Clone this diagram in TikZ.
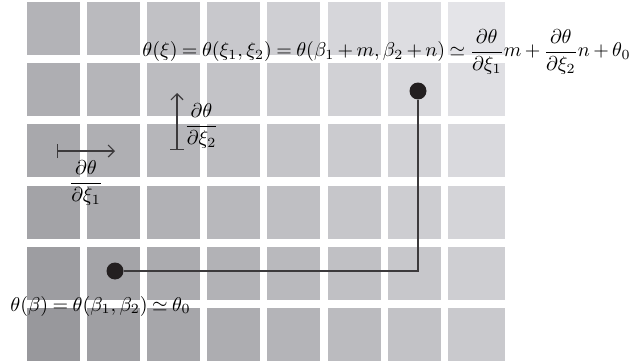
\documentclass[tikz,border=0pt]{standalone}
\usepackage{amsmath}
\usetikzlibrary{arrows.meta}
\definecolor{dotblack}{RGB}{35,31,32}
\definecolor{linegray}{RGB}{60,58,60}

\begin{document}
\begin{tikzpicture}[
    x=0.5pt, y=-0.5pt,
    % Define the style for the sample points
    dot/.style={
        circle,
        fill=dotblack,
        inner sep=0pt,
        minimum size=8.5pt
    },
    % Define the style for the path between the points
    link/.style={
        draw=linegray,
        line width=0.6pt
    },
    % Define the style for the derivative arrows
    deriv/.style={
        draw=linegray,
        line width=0.6pt,
        {Bar[width=7pt]}-{Straight Barb[length=3pt,width=6pt]}
    },
    % Define the style for the formulas
    formula/.style={
        inner sep=0pt,
        anchor=west,
        execute at begin node={\thickmuskip=4mu plus 2mu\medmuskip=3mu plus 1mu}
    }
]
    \useasboundingbox (0,0) rectangle (639,364);

    % Draw the grid of gray tiles
    \foreach \c in {1,...,8}{
        \foreach \r in {1,...,6}{
            \pgfmathtruncatemacro\v{152+7*(\c-1)+5.5*(6-\r)}
            \pgfmathtruncatemacro\vb{\v+4}
            \definecolor{tilecol}{RGB}{\v,\v,\vb}
            \pgfmathsetmacro\xl{27+60.1*(\c-1)}
            \pgfmathsetmacro\yt{2+61.2*(\r-1)}
            \pgfmathsetmacro\w{ifthenelse(\c==8,57,53)}
            \fill[tilecol] (\xl,\yt) rectangle ++(\w,53);
        }
    }

    % Place the sample points
    \node [dot] (far) at (418,91) {};
    \node [dot] (base) at (115,271) {};

    % Draw the path between them
    \path [link] (base) -| (far);

    % Place the formulas
    \node [formula] (taylor) at (142,52)
        {$\theta(\xi)=\theta(\xi_1,\xi_2)=\theta(\beta_1+m,\beta_2+n)\simeq\dfrac{\partial\theta}{\partial\xi_1}m+\dfrac{\partial\theta}{\partial\xi_2}n+\theta_0$};
    \node [formula] (origin) at (10,306)
        {$\theta(\beta)=\theta(\beta_1,\beta_2)\simeq\theta_0$};

    % Draw the derivative arrows
    \coordinate (h0) at (57,151);
    \coordinate (h1) at (115,151);
    \path [deriv] (h0) -- (h1);
    \node [inner sep=0pt] (dxione) at (86,183) {$\dfrac{\partial\theta}{\partial\xi_1}$};

    \coordinate (v0) at (177,150);
    \coordinate (v1) at (177,93);
    \path [deriv] (v0) -- (v1);
    \node [formula] (dxitwo) at (184,126) {$\dfrac{\partial\theta}{\partial\xi_2}$};

\end{tikzpicture}
\end{document}
